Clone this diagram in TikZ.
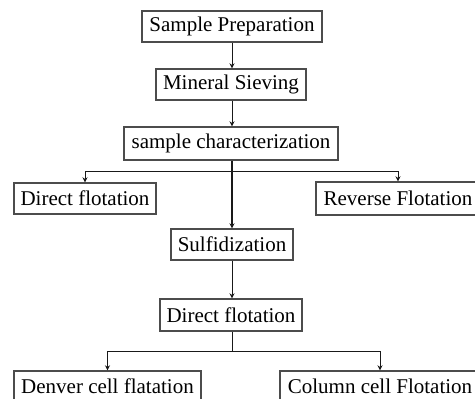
\documentclass[tikz,border=0pt]{standalone}
\usepackage{fontspec}
\setmainfont{Liberation Serif}
\usetikzlibrary{arrows.meta}
\tikzset{
  stepbox/.style={draw=black!70, line width=1.4pt, inner sep=0pt, anchor=center,
    font=\fontsize{21}{25}\selectfont, text=black},
  flow/.style={draw=black!90, line width=1pt, -{Stealth[length=5pt,width=5pt]}},
  link/.style={draw=black!90, line width=1pt}
}
\begin{document}
\begin{tikzpicture}[x=1pt, y=-1pt]
  \useasboundingbox (0,0) rectangle (475,399);
  % process boxes
  \node[stepbox, minimum width=180pt, minimum height=31pt] (prep) at (232,26.5) {Sample Preparation};
  \node[stepbox, minimum width=150pt, minimum height=31pt] (sieve) at (231,84.5) {Mineral Sieving};
  \node[stepbox, minimum width=214pt, minimum height=33pt] (char) at (231,143.5) {sample characterization};
  \node[stepbox, minimum width=142pt, minimum height=31pt] (dflot) at (85,198.5) {Direct flotation};
  \node[stepbox, minimum width=164pt, minimum height=33pt] (rflot) at (398,198.5) {Reverse Flotation};
  \node[stepbox, minimum width=122pt, minimum height=31pt] (sulf) at (232,244.5) {Sulfidization};
  \node[stepbox, minimum width=142pt, minimum height=32pt] (dflot2) at (231,315) {Direct flotation};
  \node[stepbox, minimum width=187pt, minimum height=31pt] (denver) at (107.5,386.5) {Denver cell flatation};
  \node[stepbox, minimum width=200pt, minimum height=31pt] (column) at (380,386.5) {Column cell Flotation};
  % junction points
  \coordinate (j1) at (232,171);
  \coordinate (j2) at (231,351);
  % connectors
  \draw[flow] (prep.south -| 232,0) -- (sieve.north -| 232,0);
  \draw[flow] (sieve.south -| 232,0) -- (char.north -| 232,0);
  \draw[flow, line width=1.3pt] (char.south -| 232,0) -- (sulf.north -| 232,0);
  \draw[flow, line width=0.7pt] (j1) -| (dflot.north);
  \draw[flow, line width=0.7pt] (j1) -| (rflot.north);
  \draw[flow] (sulf.south -| 232,0) -- (dflot2.north -| 232,0);
  \draw[link] (dflot2.south -| 232,0) -- (j2 -| 232,0);
  \draw[flow] (j2 -| 232,0) -| (denver.north);
  \draw[flow] (j2 -| 232,0) -| (column.north);
\end{tikzpicture}
\end{document}
